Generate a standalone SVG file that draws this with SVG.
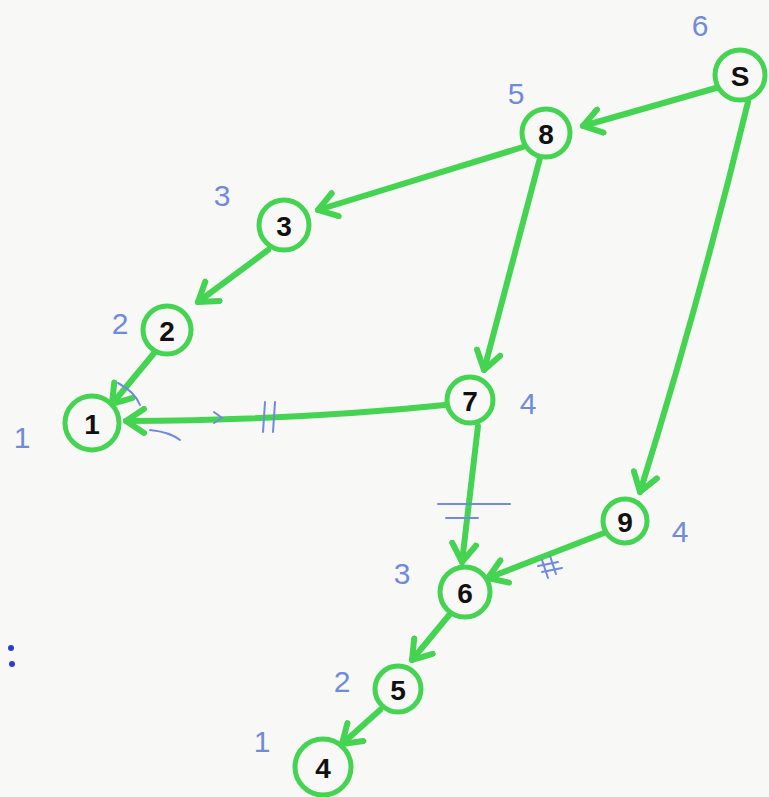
<svg xmlns="http://www.w3.org/2000/svg" width="769" height="797" viewBox="0 0 769 797">
<style>
.bg{fill:#f8f8f6}
.n circle{fill:#f8f8f6;stroke:#44d452;stroke-width:5}
.n text{font-family:"Liberation Sans",Arial,sans-serif;font-weight:bold;font-size:28px;fill:#111;text-anchor:middle;dominant-baseline:central}
.e{fill:none;stroke:#44d452;stroke-width:6;stroke-linecap:round;marker-end:url(#ah)}
.lbl{font-family:"Liberation Sans",Arial,sans-serif;font-size:30px;fill:#6f8ade;text-anchor:middle}
.mk{stroke:#6f8ade;stroke-width:2;fill:none;stroke-linecap:round}
</style>
<defs>
<marker id="ah" viewBox="0 0 20 20" refX="14" refY="10" markerWidth="5" markerHeight="5" orient="auto" markerUnits="strokeWidth">
<path d="M2,2 L14,10 L2,18" fill="none" stroke="#44d452" stroke-width="4" stroke-linecap="round" stroke-linejoin="round"/>
</marker>
</defs>
<rect class="bg" width="769" height="797"/>
<g id="edges">
<path class="e" d="M716,88 L583,126"/>
<path class="e" d="M523,147 L318,210"/>
<path class="e" d="M540,158 L484,370"/>
<path class="e" d="M748,102 Q700,300 640,492"/>
<path class="e" d="M268,250 L198,302"/>
<path class="e" d="M155,352 L112,404"/>
<path class="e" d="M445,405 Q300,420 126,421"/>
<path class="e" d="M478,426 L462,562"/>
<path class="e" d="M604,533 L488,578"/>
<path class="e" d="M450,614 L412,660"/>
<path class="e" d="M380,710 L342,744"/>
</g>
<g id="marks">
<path class="mk" d="M265,402 L263,432 M275,402 L273,432"/>
<path class="mk" d="M214,412 L222,418 L214,423"/>
<path class="mk" d="M118,383 Q135,392 140,405 M150,430 Q170,432 180,440"/>
<path class="mk" d="M438,504 L510,504 M446,518 L478,518"/>
<path class="mk" d="M542,560 L548,578 M550,556 L556,574 M538,566 L558,562 M542,572 L562,568"/>
</g>
<g id="nS" class="n"><circle cx="740" cy="75" r="25"/><text x="740" y="76">S</text></g>
<g id="n8" class="n"><circle cx="546" cy="133" r="24"/><text x="546" y="134">8</text></g>
<g id="n3" class="n"><circle cx="284" cy="225" r="25"/><text x="284" y="226">3</text></g>
<g id="n2" class="n"><circle cx="167" cy="330" r="24"/><text x="167" y="331">2</text></g>
<g id="n1" class="n"><circle cx="92" cy="423" r="27"/><text x="92" y="424">1</text></g>
<g id="n7" class="n"><circle cx="470" cy="400" r="23"/><text x="470" y="401">7</text></g>
<g id="n9" class="n"><circle cx="625" cy="521" r="22"/><text x="625" y="522">9</text></g>
<g id="n6" class="n"><circle cx="465" cy="592" r="25"/><text x="465" y="593">6</text></g>
<g id="n5" class="n"><circle cx="398" cy="689" r="23"/><text x="398" y="690">5</text></g>
<g id="n4" class="n"><circle cx="323" cy="767" r="28"/><text x="323" y="768">4</text></g>
<g id="labels">
<text class="lbl" x="700" y="36">6</text>
<text class="lbl" x="516" y="104">5</text>
<text class="lbl" x="222" y="206">3</text>
<text class="lbl" x="120" y="334">2</text>
<text class="lbl" x="22" y="448">1</text>
<text class="lbl" x="528" y="414">4</text>
<text class="lbl" x="680" y="542">4</text>
<text class="lbl" x="402" y="584">3</text>
<text class="lbl" x="342" y="692">2</text>
<text class="lbl" x="262" y="752">1</text>
<circle cx="11" cy="648" r="3" fill="#2a3fd0"/>
<circle cx="12" cy="664" r="3" fill="#2a3fd0"/>
</g>
</svg>
